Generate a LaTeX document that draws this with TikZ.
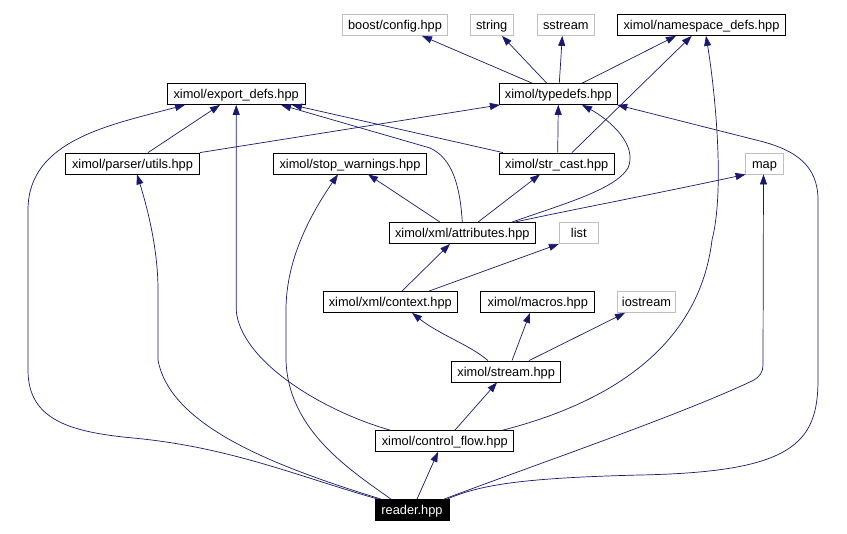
\documentclass[tikz,border=0pt]{standalone}
\usepackage{fontspec}
\setmainfont{Liberation Sans}
\usetikzlibrary{arrows.meta}
\definecolor{edgeblue}{RGB}{25,25,112}
\definecolor{boxgray}{RGB}{191,191,191}
\newcommand{\nodefont}{\fontsize{12.8}{14}\selectfont}
\begin{document}
\begin{tikzpicture}[x=1pt,y=-1pt,
  box/.style={draw=black,line width=0.8pt,minimum height=21pt,inner sep=0pt,text height=10.5pt,text depth=1pt,font=\nodefont,anchor=center},
  gbox/.style={box,draw=boxgray},
  edge/.style={draw=edgeblue,line width=0.7pt,-{Triangle[length=10pt,width=7pt]}}]
\useasboundingbox[fill=white] (0,0) rectangle (847,534);
% nodes
\node[gbox,minimum width=105pt] (boost) at (395,25) {boost/config.hpp};
\node[gbox,minimum width=43pt] (string) at (491.7,25) {string};
\node[gbox,minimum width=57pt] (sstream) at (565.8,25) {sstream};
\node[box,minimum width=168pt] (nsdefs) at (701.5,25) {ximol/namespace\_defs.hpp};
\node[box,minimum width=138pt] (export) at (236.2,94) {ximol/export\_defs.hpp};
\node[box,minimum width=118pt] (typedefs) at (558.3,94) {ximol/typedefs.hpp};
\node[box,minimum width=134pt] (parser) at (132.5,163.5) {ximol/parser/utils.hpp};
\node[box,minimum width=153pt] (stopw) at (350,163.5) {ximol/stop\_warnings.hpp};
\node[box,minimum width=115pt] (strcast) at (556.7,163.5) {ximol/str\_cast.hpp};
\node[gbox,minimum width=38pt] (map) at (764.5,163.5) {map};
\node[box,minimum width=146pt] (attr) at (462.3,233) {ximol/xml/attributes.hpp};
\node[gbox,minimum width=39pt] (list) at (578.8,233) {list};
\node[box,minimum width=134pt] (context) at (390.3,302) {ximol/xml/context.hpp};
\node[box,minimum width=114pt] (macros) at (537.8,302) {ximol/macros.hpp};
\node[gbox,minimum width=58pt] (iostream) at (646.5,302) {iostream};
\node[box,minimum width=109pt] (stream) at (506.2,371.5) {ximol/stream.hpp};
\node[box,minimum width=138pt] (control) at (444.8,441) {ximol/control\_flow.hpp};
\node[box,fill=black,text=white,minimum width=74pt] (reader) at (412,510) {reader.hpp};
% edges
\draw[edge] ([xshift=-26.3pt]typedefs.north) -- ([xshift=27pt]boost.south);
\draw[edge] ([xshift=-11.6pt]typedefs.north) -- ([xshift=10.3pt]string.south);
\draw[edge] ([xshift=1pt]typedefs.north) -- ([xshift=-3.5pt]sstream.south);
\draw[edge] ([xshift=24pt]typedefs.north) -- ([xshift=-25.5pt]nsdefs.south);
\draw[edge] ([xshift=15.3pt]strcast.north) -- ([xshift=-9.8pt]nsdefs.south);
\draw[edge] ([xshift=58.2pt]control.north) .. controls (620,400) and (700,340) .. (712,240) .. controls (725,190) and (715,90) .. ([xshift=4.5pt]nsdefs.south);
\draw[edge] ([xshift=15.5pt]parser.north) -- ([xshift=-16.2pt]export.south);
\draw[edge] (parser.north east) -- ([xshift=1pt]typedefs.south west);
\draw[edge] ([xshift=-53.7pt]strcast.north) -- ([xshift=55.8pt]export.south);
\draw[edge] (attr.north) .. controls (460,185) and (452,158) .. (430,148) -- ([xshift=44.8pt]export.south);
\draw[edge] ([xshift=-34pt]reader.north) .. controls (300,477) and (230,447) .. (133,438) .. controls (70,432) and (28,420) .. (28,370) -- (28,210) .. controls (28,140) and (110,125) .. ([xshift=-51.2pt]export.south);
\draw[edge] ([xshift=-54.8pt]control.north) .. controls (320,410) and (240,360) .. (236.2,310) -- (export.south);
\draw[edge] ([xshift=1pt]strcast.north) -- (typedefs.south);
\draw[edge] ([xshift=49.7pt]attr.north) .. controls (560,205) and (615,190) .. (628,168) .. controls (638,145) and (610,120) .. ([xshift=23.7pt]typedefs.south);
\draw[edge] ([xshift=35pt]reader.north) .. controls (480,485) and (520,478) .. (640,475) .. controls (790,472) and (818,445) .. (818,380) -- (818,200) .. controls (818,165) and (795,150) .. (760,141) -- ([xshift=-0.5pt]typedefs.south east);
\draw[edge] ([xshift=-22.3pt]attr.north) -- ([xshift=18pt]stopw.south);
\draw[edge] ([xshift=15.7pt]attr.north) -- ([xshift=-16.7pt]strcast.south);
\draw[edge] ([xshift=52.7pt]attr.north) .. controls (560,212) and (650,195) .. ([xshift=0.5pt]map.south west);
\draw[edge] ([xshift=11.7pt]context.north) -- ([xshift=-12.3pt]attr.south);
\draw[edge] ([xshift=38.7pt]context.north) -- (list.south west);
\draw[edge] ([xshift=-18.2pt]stream.north) .. controls (470,345) and (440,335) .. ([xshift=21.7pt]context.south);
\draw[edge] ([xshift=5.8pt]stream.north) -- ([xshift=-7.8pt]macros.south);
\draw[edge] ([xshift=22.8pt]stream.north) -- ([xshift=-21.5pt]iostream.south);
\draw[edge] ([xshift=10.2pt]control.north) -- ([xshift=-9.2pt]stream.south);
\draw[edge] ([xshift=5pt]reader.north) -- ([xshift=-6.8pt]control.south);
\draw[edge] ([xshift=-31pt]reader.north) .. controls (270,465) and (170,425) .. (158,360) -- (158,290) .. controls (158,250) and (148,210) .. ([xshift=4.5pt]parser.south);
\draw[edge] ([xshift=-21pt]reader.north) .. controls (350,470) and (288,430) .. (286,360) -- (286,310) .. controls (286,260) and (310,215) .. ([xshift=-12pt]stopw.south);
\draw[edge] ([xshift=32pt]reader.north) .. controls (540,463) and (680,415) .. (752,381) .. controls (760,377) and (763,372) .. (763,365) -- ([xshift=-1pt]map.south);
\end{tikzpicture}
\end{document}
